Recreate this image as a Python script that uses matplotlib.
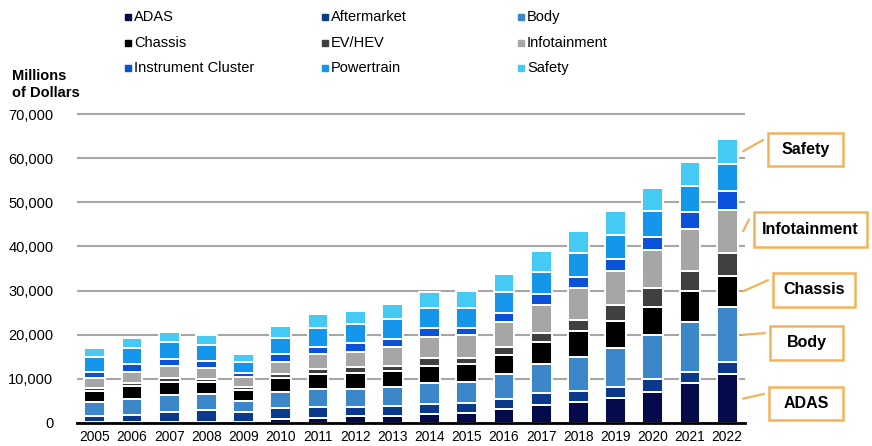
import numpy as np
import matplotlib
matplotlib.use("Agg")
import matplotlib.pyplot as plt
from matplotlib.patches import Rectangle

plt.rcParams['font.family'] = ['Liberation Sans', 'DejaVu Sans']

# data (millions of dollars)
years = [str(y) for y in range(2005, 2023)]
segments = ["ADAS", "Aftermarket", "Body", "Chassis", "EV/HEV", "Infotainment",
            "Instrument Cluster", "Powertrain", "Safety"]
colors = ["#050a4a", "#0b3a8c", "#3c86ca", "#000000", "#404040", "#a6a6a6",
          "#0a52da", "#1497ea", "#44caf3"]

adas = [150, 150, 150, 150, 150, 830, 1200, 1590, 1660, 2040, 2340, 3110, 4080, 4830, 5600, 7100, 9000, 11040]
aftermarket = [1440, 1660, 2410, 2800, 2410, 2500, 2360, 2110, 2190, 2200, 2130, 2260, 2650, 2490, 2630, 2800, 2630, 2720]
body = [3240, 3630, 3790, 3550, 2500, 3770, 4150, 4010, 4250, 4900, 4900, 5670, 6580, 7710, 8710, 10050, 11340, 12480]
chassis = [2490, 3020, 3020, 2870, 2420, 3030, 3400, 3560, 3690, 3860, 3940, 4380, 4990, 5900, 6190, 6290, 7030, 7160]
ev_hev = [550, 540, 770, 610, 620, 980, 1130, 1360, 1140, 1810, 1500, 1880, 2180, 2430, 3630, 4440, 4540, 5220]
infotainment = [2270, 2630, 2790, 2560, 2260, 2650, 3340, 3540, 4370, 4760, 5140, 5670, 6280, 7180, 7710, 8550, 9380, 9680]
instrument = [1490, 1680, 1580, 1520, 910, 1820, 1720, 1900, 1680, 1900, 1660, 2040, 2420, 2500, 2720, 3020, 3770, 4150]
powertrain = [3400, 3630, 3790, 3630, 2560, 3620, 4310, 4300, 4530, 4530, 4390, 4770, 5130, 5430, 5440, 5820, 5900, 6280]
safety = [1910, 2260, 2400, 2260, 1820, 2870, 3110, 3100, 3470, 3780, 3930, 4010, 4760, 5070, 5290, 5150, 5440, 5670]

series = [adas, aftermarket, body, chassis, ev_hev, infotainment, instrument, powertrain, safety]
callouts = ["Safety", "Infotainment", "Chassis", "Body", "ADAS"]

W, H = 872, 446
fig = plt.figure(figsize=(W / 100, H / 100), dpi=100)

def fx(px):
    return px / W

def fy(py):
    return 1 - py / H

ymax = 71000
ax = fig.add_axes([fx(77), 23 / H, 668 / W, (ymax / 10000 * 44.14) / H])

x = np.arange(len(years))
bottom = np.zeros(len(years))
mids = {}
for name, vals, c in zip(segments, series, colors):
    vals = np.array(vals, dtype=float)
    ax.bar(x, vals, width=0.56, bottom=bottom, color=c, edgecolor='white',
           linewidth=1.4, zorder=3)
    mids[name] = bottom[-1] + vals[-1] / 2
    bottom += vals

ax.set_xlim(-0.48, len(years) - 0.52)
ax.set_ylim(0, ymax)
ax.set_yticks(range(0, 70001, 10000))
ax.set_yticklabels([f"{v:,}" for v in range(0, 70001, 10000)])
ax.set_xticks(x)
ax.set_xticklabels(years)
ax.tick_params(axis='y', length=0, pad=17, labelsize=10.5)
ax.tick_params(axis='x', length=0, pad=5, labelsize=9.9)
ax.yaxis.grid(True, color='#a6a6a6', linewidth=1.5, zorder=0)
ax.set_axisbelow(True)
for s in ['left', 'right', 'top']:
    ax.spines[s].set_visible(False)
ax.spines['bottom'].set_color('black')
ax.spines['bottom'].set_linewidth(2)
ax.spines['bottom'].set_zorder(4)

# axis title
fig.text(fx(12), fy(76), "Millions", fontsize=10.5, fontweight='bold', va='center')
fig.text(fx(12), fy(93), "of Dollars", fontsize=10.5, fontweight='bold', va='center')

# legend, laid out like the original (3 columns, fixed positions)
col_x = [125, 322, 518]
row_y = [17, 43, 68]
for i, (name, c) in enumerate(zip(segments, colors)):
    cx = col_x[i % 3]
    cy = row_y[i // 3]
    fig.patches.append(Rectangle((fx(cx), fy(cy + 3)), 6 / W, 6 / H,
                                 transform=fig.transFigure, color=c))
    fig.text(fx(cx + 9), fy(cy), name, fontsize=10.5, va='center')

# callout boxes for the 2022 bar
orange = '#f2b25a'
boxes = {
    "Safety": (768, 133, 75, 33),
    "Infotainment": (754, 212, 113, 35),
    "Chassis": (773, 273, 82, 34),
    "Body": (770, 326, 73, 34),
    "ADAS": (769, 387, 74, 33),
}
for name in callouts:
    bx, by, bw, bh = boxes[name]
    fig.patches.append(Rectangle((fx(bx), fy(by + bh)), bw / W, bh / H,
                                 transform=fig.transFigure, facecolor='white',
                                 edgecolor=orange, linewidth=1.8))
    fig.text(fx(bx + bw / 2), fy(by + bh / 2), name, fontsize=11.5,
             fontweight='bold', ha='center', va='center')
    ax.annotate('', xy=(x[-1] + 0.43, mids[name]), xycoords='data',
                xytext=(bx - 5, H - (by + bh * 0.21)), textcoords='figure pixels',
                arrowprops=dict(arrowstyle='-', color=orange, lw=1.6,
                                shrinkA=0, shrinkB=0),
                annotation_clip=False)

fig.savefig("out.png", dpi=100)
